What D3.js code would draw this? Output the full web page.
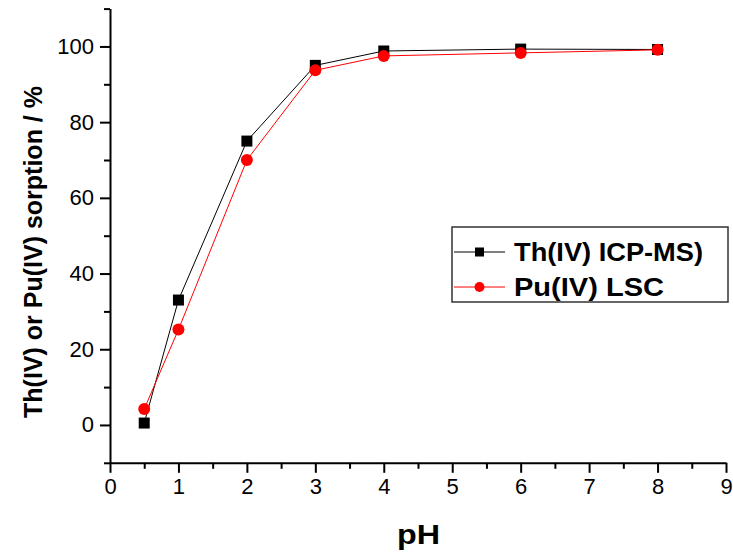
<!doctype html>
<html>
<head>
<meta charset="utf-8">
<script src="https://d3js.org/d3.v7.min.js"></script>
<style>
  body { margin: 0; background: #fff; }
  text { font-family: Arial, "Liberation Sans", sans-serif; }
  .tick text { font-size: 22px; }
</style>
</head>
<body>
<svg width="733" height="553"></svg>
<script>
// pH values and sorption (%)
var ph = [0.5, 1, 2, 3, 4, 6, 8];
var thSorption = [0.5, 33, 75, 95, 98.8, 99.3, 99.2];
var puSorption = [4.2, 25.2, 70, 93.7, 97.5, 98.3, 99.1];
var xTicks = [0, 1, 2, 3, 4, 5, 6, 7, 8, 9];
var yTicks = [0, 20, 40, 60, 80, 100];
var seriesNames = ["Th(IV) ICP-MS)", "Pu(IV) LSC"];

var svg = d3.select("svg");

var x = d3.scaleLinear().domain([0, 9]).range([110, 726]);
var y = d3.scaleLinear().domain([-10, 110]).range([462.8, 8.6]);

// minor ticks every half step
var xMinor = d3.range(0.5, 9, 1);
var yMinor = d3.range(-10, 111, 20);

var gx = svg.append("g").attr("transform", "translate(0," + y(-10) + ")");
gx.call(d3.axisBottom(x).tickValues(xTicks).tickSize(10).tickPadding(6).tickSizeOuter(0).tickFormat(d3.format("d")));
gx.attr("font-size", 22);
gx.append("g").call(d3.axisBottom(x).tickValues(xMinor).tickSize(6).tickFormat(""))
  .select(".domain").remove();

var gy = svg.append("g").attr("transform", "translate(" + x(0) + ",0)");
gy.call(d3.axisLeft(y).tickValues(yTicks).tickSize(10).tickPadding(6).tickSizeOuter(0));
gy.attr("font-size", 22);
gy.append("g").call(d3.axisLeft(y).tickValues(yMinor).tickSize(6).tickFormat(""))
  .select(".domain").remove();

svg.selectAll(".domain, .tick line").attr("stroke", "#000").attr("stroke-width", 2);
svg.selectAll(".tick text").attr("fill", "#000").attr("font-size", 22);

var line = d3.line().x(function(d) { return x(d[0]); }).y(function(d) { return y(d[1]); });
var thData = ph.map(function(p, i) { return [p, thSorption[i]]; });
var puData = ph.map(function(p, i) { return [p, puSorption[i]]; });

svg.append("path").datum(thData).attr("d", line)
  .attr("fill", "none").attr("stroke", "#000").attr("stroke-width", 1);
svg.append("path").datum(puData).attr("d", line)
  .attr("fill", "none").attr("stroke", "#ff0000").attr("stroke-width", 1);

svg.selectAll(".sq").data(thData).enter().append("rect")
  .attr("x", function(d) { return x(d[0]) - 5.5; })
  .attr("y", function(d) { return y(d[1]) - 5.5; })
  .attr("width", 11).attr("height", 11).attr("fill", "#000");

svg.selectAll(".ci").data(puData).enter().append("circle")
  .attr("cx", function(d) { return x(d[0]); })
  .attr("cy", function(d) { return y(d[1]); })
  .attr("r", 6).attr("fill", "#ff0000");

// axis titles
svg.append("text")
  .attr("transform", "translate(42,252) rotate(-90)")
  .attr("text-anchor", "middle").attr("font-weight", "bold")
  .style("font-size", "25px")
  .text("Th(IV) or Pu(IV) sorption / %");

svg.append("text")
  .attr("x", 397).attr("y", 544)
  .attr("font-weight", "bold").style("font-size", "28px")
  .attr("textLength", 43).attr("lengthAdjust", "spacingAndGlyphs")
  .text("pH");

// legend
var leg = svg.append("g");
leg.append("rect").attr("x", 452).attr("y", 227).attr("width", 276).attr("height", 75)
  .attr("fill", "#fff").attr("stroke", "#333").attr("stroke-width", 1.5);
var legColors = ["#000", "#ff0000"];
var legWidths = [189, 150];
seriesNames.forEach(function(name, i) {
  var cy = 252 + i * 35;
  leg.append("line").attr("x1", 454).attr("x2", 505).attr("y1", cy).attr("y2", cy)
    .attr("stroke", legColors[i]).attr("stroke-width", 1);
  if (i === 0) {
    leg.append("rect").attr("x", 475).attr("y", cy - 4.5).attr("width", 9).attr("height", 9)
      .attr("fill", "#000");
  } else {
    leg.append("circle").attr("cx", 479.5).attr("cy", cy).attr("r", 5).attr("fill", "#ff0000");
  }
  leg.append("text").attr("x", 514).attr("y", cy + 9)
    .attr("font-weight", "bold").style("font-size", "25px")
    .attr("textLength", legWidths[i]).attr("lengthAdjust", "spacingAndGlyphs")
    .text(name);
});
</script>
</body>
</html>
